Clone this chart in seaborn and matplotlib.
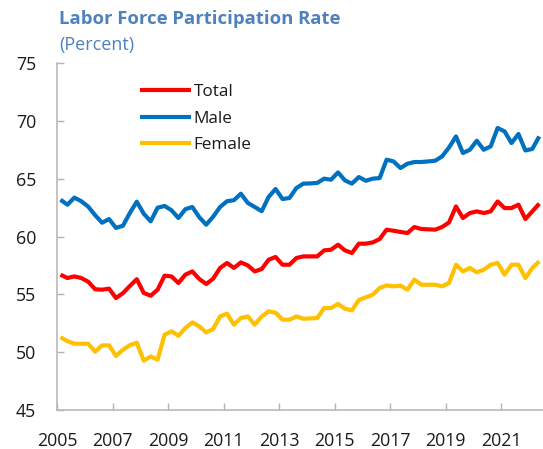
import numpy as np
import pandas as pd
import matplotlib
matplotlib.use("Agg")
import matplotlib.pyplot as plt
import seaborn as sns

# Quarterly labor force participation rates, 2005Q1 onward (percent)
total = [56.70, 56.41, 56.55, 56.41, 56.09, 55.44, 55.40, 55.49, 54.68, 55.10,
         55.72, 56.31, 55.12, 54.88, 55.40, 56.61, 56.55, 55.98, 56.70, 56.98,
         56.33, 55.89, 56.35, 57.28, 57.71, 57.28, 57.76, 57.50, 56.98, 57.19,
         57.99, 58.23, 57.56, 57.56, 58.14, 58.28, 58.28, 58.28, 58.80, 58.86,
         59.29, 58.80, 58.57, 59.38, 59.38, 59.49, 59.78, 60.59, 60.50, 60.39,
         60.30, 60.82, 60.65, 60.62, 60.59, 60.82, 61.22, 62.60, 61.60, 62.03,
         62.17, 62.03, 62.17, 63.03, 62.46, 62.46, 62.75, 61.51, 62.17, 62.84]
male = [63.18, 62.75, 63.36, 63.05, 62.58, 61.84, 61.19, 61.51, 60.74, 60.93,
        62.03, 63.01, 61.97, 61.31, 62.49, 62.64, 62.27, 61.60, 62.36, 62.55,
        61.67, 61.02, 61.71, 62.55, 63.05, 63.14, 63.70, 62.90, 62.55, 62.19,
        63.42, 64.11, 63.24, 63.33, 64.19, 64.57, 64.59, 64.63, 65.00, 64.91,
        65.54, 64.85, 64.57, 65.14, 64.82, 65.00, 65.05, 66.64, 66.49, 65.92,
        66.29, 66.44, 66.44, 66.49, 66.55, 66.93, 67.70, 68.65, 67.22, 67.50,
        68.28, 67.50, 67.79, 69.38, 69.09, 68.08, 68.86, 67.44, 67.57, 68.65]
female = [51.29, 50.95, 50.73, 50.73, 50.73, 50.04, 50.59, 50.59, 49.67, 50.21,
          50.60, 50.82, 49.26, 49.63, 49.35, 51.51, 51.80, 51.42, 52.09, 52.57,
          52.23, 51.71, 52.00, 53.09, 53.33, 52.38, 52.95, 53.09, 52.38, 53.09,
          53.53, 53.41, 52.81, 52.81, 53.09, 52.89, 52.92, 52.95, 53.82, 53.82,
          54.17, 53.76, 53.61, 54.51, 54.74, 54.97, 55.55, 55.77, 55.69, 55.75,
          55.40, 56.27, 55.83, 55.83, 55.83, 55.69, 55.98, 57.56, 56.98, 57.28,
          56.90, 57.13, 57.56, 57.71, 56.70, 57.56, 57.56, 56.41, 57.28, 57.85]

series_names = ["Total", "Male", "Female"]
series_colors = ["#FF0000", "#0070C0", "#FFC000"]
year_ticks = [2005, 2007, 2009, 2011, 2013, 2015, 2017, 2019, 2021]
y_ticks = [45, 50, 55, 60, 65, 70, 75]

# Place each quarter at its mid-point on a decimal-year axis
quarters = pd.period_range("2005Q1", periods=len(total), freq="Q")
qpos = np.asarray(quarters.year + (quarters.quarter - 0.5) / 4.0, dtype=float)

n = len(total)
df = pd.DataFrame({
    "date": np.tile(qpos, 3),
    "value": total + male + female,
    "series": [series_names[0]] * n + [series_names[1]] * n + [series_names[2]] * n,
})

sns.set_theme(style="white")
plt.rcParams["font.family"] = ["Open Sans", "DejaVu Sans"]

W, H = 543, 449
fig = plt.figure(figsize=(W / 100, H / 100), dpi=100)
ax = fig.add_axes([57 / W, 1 - 410 / H, 1 - 57 / W, (410 - 63) / H])

sns.lineplot(data=df, x="date", y="value", hue="series", hue_order=series_names,
             palette=dict(zip(series_names, series_colors)), linewidth=3,
             ax=ax, legend=True)
for ln in ax.lines:
    ln.set_solid_joinstyle("round")
    ln.set_solid_capstyle("butt")

ax.set_xlim(2005.07, 2022.51)
ax.set_ylim(45, 75)
ax.set_xticks(year_ticks)
ax.set_xticklabels([str(y) for y in year_ticks])
ax.set_yticks(y_ticks)
ax.set_xlabel("")
ax.set_ylabel("")

spine_color = "#B4B4B4"
for side in ["top", "right"]:
    ax.spines[side].set_visible(False)
for side in ["left", "bottom"]:
    ax.spines[side].set_color(spine_color)
    ax.spines[side].set_linewidth(1.1)

ax.tick_params(axis="both", direction="in", length=5, width=1,
               color=spine_color, labelsize=12.8, labelcolor="#1a1a1a")
ax.tick_params(axis="x", pad=16, bottom=True)
ax.tick_params(axis="y", pad=15, left=True)

leg = ax.legend(loc="upper left", bbox_to_anchor=(140 / W, 1 - 84 / H),
                bbox_transform=fig.transFigure, frameon=False, fontsize=12.3,
                handlelength=3.0, handletextpad=0.15, labelspacing=0.62,
                borderaxespad=0, borderpad=0)
for t in leg.get_texts():
    t.set_color("#1a1a1a")
for h in leg.get_lines():
    h.set_linewidth(3)

title_color = "#4F81BD"
fig.text(59 / W, 1 - 19 / H, "Labor Force Participation Rate", color=title_color,
         fontsize=13.3, fontweight="bold", va="center", ha="left")
fig.text(59 / W, 1 - 45 / H, "(Percent)", color=title_color,
         fontsize=13, va="center", ha="left")

fig.savefig("out.png", dpi=100)
